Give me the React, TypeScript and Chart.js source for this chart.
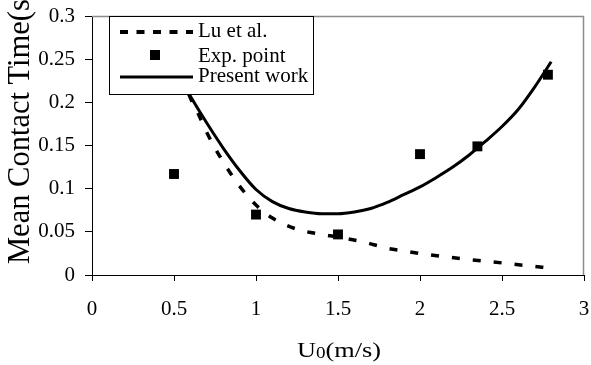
import React, { useEffect, useRef } from 'react';
import { Chart, registerables } from 'chart.js';

Chart.register(...registerables);

const xTicks = [0, 0.5, 1, 1.5, 2, 2.5, 3];
const xTickLabels = ['0', '0.5', '1', '1.5', '2', '2.5', '3'];
const yTicks = [0, 0.05, 0.1, 0.15, 0.2, 0.25, 0.3];
const yTickLabels = ['0', '0.05', '0.1', '0.15', '0.2', '0.25', '0.3'];

const seriesNames = ['Lu et al.', 'Exp. point', 'Present work'];

const luX = [0.5, 0.6, 0.65, 0.7, 0.8, 0.9, 1.0, 1.1, 1.25, 1.4, 1.5, 1.66, 1.8, 1.9, 2.0, 2.25, 2.5, 2.64, 2.8];
const luY = [0.255, 0.205, 0.186, 0.165, 0.131, 0.103, 0.081, 0.066, 0.053, 0.047, 0.044, 0.038, 0.031, 0.028, 0.025, 0.019, 0.014, 0.011, 0.008];

const expX = [0.5, 1.0, 1.5, 2.0, 2.35, 2.78];
const expY = [0.117, 0.07, 0.047, 0.14, 0.149, 0.232];

const presentX = [0.5, 0.6, 0.7, 0.8, 0.9, 1.0, 1.1, 1.2, 1.3, 1.4, 1.5, 1.6, 1.7, 1.8, 1.9, 2.0, 2.1, 2.2, 2.3, 2.4, 2.5, 2.6, 2.7, 2.8];
const presentY = [0.24, 0.207, 0.176, 0.147, 0.121, 0.099, 0.085, 0.077, 0.073, 0.071, 0.071, 0.073, 0.077, 0.084, 0.093, 0.102, 0.113, 0.125, 0.139, 0.155, 0.172, 0.192, 0.218, 0.247];

const yTitle = 'Mean Contact Time(s)';
const xTitleMain = 'U';
const xTitleSub = '0';
const xTitleRest = '(m/s)';

const FONT = '"Liberation Serif", "Times New Roman", serif';

const toPoints = (xs: number[], ys: number[]) => xs.map((x, i) => ({ x, y: ys[i] }));

const labelFor = (ticks: number[], labels: string[], v: number) => {
  const i = ticks.findIndex((t) => Math.abs(t - v) < 1e-9);
  return i >= 0 ? labels[i] : '';
};

const decorPlugin = {
  id: 'decor',
  beforeDatasetsDraw(chart: any) {
    const { ctx, chartArea: a } = chart;
    ctx.save();
    ctx.strokeStyle = '#8c8c8c';
    ctx.lineWidth = 1.5;
    ctx.beginPath();
    ctx.moveTo(a.left, a.top + 0.5);
    ctx.lineTo(a.right - 0.5, a.top + 0.5);
    ctx.lineTo(a.right - 0.5, a.bottom);
    ctx.stroke();
    ctx.restore();
  },
  afterDraw(chart: any) {
    const { ctx } = chart;
    ctx.save();
    // Legend box
    const L = { left: 109, top: 16, right: 314, bottom: 95 };
    ctx.fillStyle = '#fff';
    ctx.fillRect(L.left, L.top, L.right - L.left, L.bottom - L.top);
    ctx.strokeStyle = '#000';
    ctx.lineWidth = 1;
    ctx.strokeRect(L.left + 0.5, L.top + 0.5, L.right - L.left - 1, L.bottom - L.top - 1);
    const sampleY = [32, 55, 77];
    const textY = [31.5, 56, 76];
    chart.data.datasets.forEach((ds: any, i: number) => {
      const y = sampleY[i];
      if (ds.showLine === false) {
        ctx.fillStyle = '#000';
        ctx.fillRect(150, y - 5, 10, 10);
      } else {
        ctx.strokeStyle = '#000';
        ctx.lineWidth = ds.borderDash && ds.borderDash.length ? 4 : ds.borderWidth;
        ctx.lineCap = 'butt';
        ctx.setLineDash(ds.borderDash && ds.borderDash.length ? [8, 8.5] : []);
        ctx.beginPath();
        ctx.moveTo(120, y);
        ctx.lineTo(193, y);
        ctx.stroke();
        ctx.setLineDash([]);
      }
      ctx.fillStyle = '#000';
      ctx.font = `21px ${FONT}`;
      ctx.textAlign = 'left';
      ctx.textBaseline = 'middle';
      ctx.fillText(ds.label, 198, textY[i]);
    });

    // Y title
    ctx.save();
    ctx.translate(28.5, 264);
    ctx.rotate(-Math.PI / 2);
    ctx.font = `30.5px ${FONT}`;
    ctx.textAlign = 'left';
    ctx.textBaseline = 'alphabetic';
    ctx.fillStyle = '#000';
    ctx.fillText(yTitle, 0, 0);
    ctx.restore();

    // X title with subscript
    ctx.save();
    const mainFont = `22px ${FONT}`;
    const subFont = `16px ${FONT}`;
    ctx.font = mainFont;
    const wU = ctx.measureText(xTitleMain).width;
    const wR = ctx.measureText(xTitleRest).width;
    ctx.font = subFont;
    const wS = ctx.measureText(xTitleSub).width;
    const natural = wU + wS + wR;
    const targetW = 84;
    const s = targetW / natural;
    const cx = (chart.chartArea.left + chart.chartArea.right) / 2 + 1;
    ctx.translate(cx - targetW / 2, 357);
    ctx.scale(s, 1);
    ctx.fillStyle = '#000';
    ctx.textAlign = 'left';
    ctx.textBaseline = 'alphabetic';
    ctx.font = mainFont;
    ctx.fillText(xTitleMain, 0, 0);
    ctx.font = subFont;
    ctx.fillText(xTitleSub, wU, 1);
    ctx.font = mainFont;
    ctx.fillText(xTitleRest, wU + wS, 0);
    ctx.restore();

    ctx.restore();
  },
};

export default function App() {
  const ref = useRef<HTMLCanvasElement | null>(null);
  useEffect(() => {
    if (!ref.current) return;
    const chart = new Chart(ref.current, {
      type: 'line',
      data: {
        datasets: [
          {
            label: seriesNames[0],
            data: toPoints(luX, luY),
            borderColor: '#000',
            backgroundColor: '#000',
            borderWidth: 3.5,
            borderDash: [8, 13],
            borderCapStyle: 'butt',
            pointRadius: 0,
            cubicInterpolationMode: 'monotone',
            fill: false,
          },
          {
            label: seriesNames[1],
            data: toPoints(expX, expY),
            showLine: false,
            pointStyle: 'rect',
            pointRadius: 7,
            pointBackgroundColor: '#000',
            pointBorderColor: '#000',
            pointBorderWidth: 0,
            borderColor: '#000',
            backgroundColor: '#000',
          },
          {
            label: seriesNames[2],
            data: toPoints(presentX, presentY),
            borderColor: '#000',
            backgroundColor: '#000',
            borderWidth: 3,
            pointRadius: 0,
            cubicInterpolationMode: 'monotone',
            fill: false,
          },
        ] as any,
      },
      options: {
        animation: false,
        responsive: true,
        maintainAspectRatio: false,
        layout: { padding: { left: 0, right: 5, top: 16, bottom: 0 } },
        plugins: {
          legend: { display: false },
          tooltip: { enabled: false },
          title: { display: false },
        },
        scales: {
          x: {
            type: 'linear',
            min: 0,
            max: 3,
            afterBuildTicks: (scale: any) => {
              scale.ticks = xTicks.map((v) => ({ value: v }));
            },
            afterFit: (scale: any) => {
              scale.height = 90;
              scale.paddingLeft = 0;
              scale.paddingRight = 0;
            },
            grid: {
              display: true,
              drawOnChartArea: false,
              drawTicks: true,
              tickLength: 6,
              tickColor: '#000',
              tickWidth: 1,
            },
            border: { display: true, color: '#000', width: 1 },
            ticks: {
              color: '#000',
              font: { family: FONT, size: 21 },
              padding: 16,
              maxRotation: 0,
              autoSkip: false,
              callback: (v: any) => labelFor(xTicks, xTickLabels, Number(v)),
            },
          },
          y: {
            type: 'linear',
            min: 0,
            max: 0.3,
            afterBuildTicks: (scale: any) => {
              scale.ticks = yTicks.map((v) => ({ value: v }));
            },
            afterFit: (scale: any) => {
              scale.width = 92;
              scale.paddingTop = 0;
              scale.paddingBottom = 0;
            },
            grid: {
              display: true,
              drawOnChartArea: false,
              drawTicks: true,
              tickLength: 7,
              tickColor: '#000',
              tickWidth: 1,
            },
            border: { display: true, color: '#000', width: 1 },
            ticks: {
              color: '#000',
              font: { family: FONT, size: 21 },
              padding: 10,
              autoSkip: false,
              callback: (v: any) => labelFor(yTicks, yTickLabels, Number(v)),
            },
          },
        },
      } as any,
      plugins: [decorPlugin],
    });
    return () => chart.destroy();
  }, []);

  return (
    <div style={{ position: 'fixed', left: 0, top: 0, width: 591, height: 365, background: '#fff' }}>
      <canvas ref={ref} />
    </div>
  );
}
